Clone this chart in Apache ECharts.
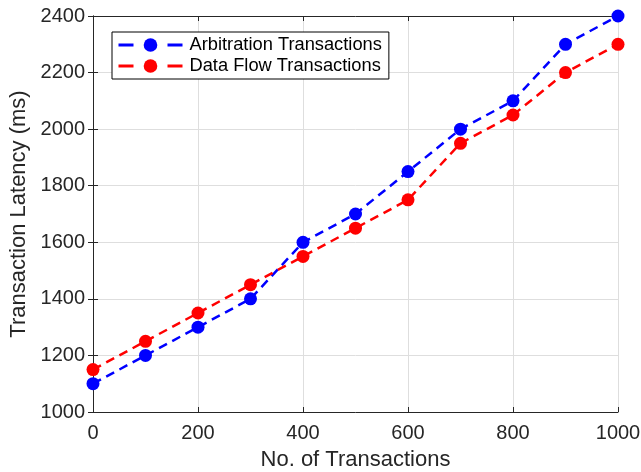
<!DOCTYPE html>
<html>
<head>
<meta charset="utf-8">
<title>Transaction Latency</title>
<script src="https://cdn.jsdelivr.net/npm/echarts@6/dist/echarts.min.js"></script>
</head>
<body style="margin:0">
<div id="main" style="width:641px;height:472px;"></div>
<script type="text/javascript">
var xValues = [0, 100, 200, 300, 400, 500, 600, 700, 800, 900, 1000];
var arbitration = [1100, 1200, 1300, 1400, 1600, 1700, 1850, 2000, 2100, 2300, 2400];
var dataFlow = [1150, 1250, 1350, 1450, 1550, 1650, 1750, 1950, 2050, 2200, 2300];

function pairs(ys) {
    return xValues.map(function (x, i) { return [x, ys[i]]; });
}

var txt = '#262626';
var font = 'Liberation Sans, Arial, sans-serif';
var plain = function (v) { return String(v); };

var myChart = echarts.init(document.getElementById('main'));
myChart.setOption({
    animation: false,
    backgroundColor: '#fff',
    grid: { left: 93, right: 23, top: 16, bottom: 60, outerBoundsMode: 'none', containLabel: false },
    legend: {
        orient: 'vertical',
        left: 112, top: 32,
        itemWidth: 64, itemHeight: 17, itemGap: 3,
        padding: [4, 7, 4, 5],
        borderColor: '#000', borderWidth: 1,
        backgroundColor: '#fff',
        lineStyle: { width: 3, type: [15, 34] },
        textStyle: { color: '#000', fontSize: 18.3, fontFamily: font, padding: [0, 0, 0, 2] },
        data: ['Arbitration Transactions', 'Data Flow Transactions']
    },
    xAxis: [{
        type: 'value', min: 0, max: 1000, interval: 200,
        name: 'No. of Transactions', nameLocation: 'middle', nameGap: 37,
        nameTextStyle: { color: txt, fontSize: 22, fontFamily: font },
        axisLine: { lineStyle: { color: txt, width: 1 } },
        axisTick: { inside: true, length: 5, lineStyle: { color: txt } },
        axisLabel: { color: txt, fontSize: 20, fontFamily: font, margin: 11, formatter: plain },
        splitLine: { show: true, lineStyle: { color: '#dedede' } }
    }, {
        type: 'value', min: 0, max: 1000, interval: 200, position: 'top',
        axisLine: { show: true, lineStyle: { color: txt } },
        axisTick: { inside: true, length: 5, lineStyle: { color: txt } },
        axisLabel: { show: false }, splitLine: { show: false }
    }],
    yAxis: [{
        type: 'value', min: 1000, max: 2400, interval: 200,
        name: 'Transaction Latency (ms)', nameLocation: 'middle', nameGap: 55,
        nameTextStyle: { color: txt, fontSize: 22, fontFamily: font },
        axisLine: { show: true, lineStyle: { color: txt, width: 1 } },
        axisTick: { show: true, inside: true, length: 5, lineStyle: { color: txt } },
        axisLabel: { color: txt, fontSize: 20, fontFamily: font, margin: 8, formatter: plain },
        splitLine: { show: true, lineStyle: { color: '#dedede' } }
    }, {
        type: 'value', min: 1000, max: 2400, interval: 200, position: 'right',
        axisLine: { show: true, lineStyle: { color: txt } },
        axisTick: { show: true, inside: true, length: 5, lineStyle: { color: txt } },
        axisLabel: { show: false }, splitLine: { show: false }
    }],
    series: [{
        name: 'Arbitration Transactions',
        type: 'line',
        data: pairs(arbitration),
        symbol: 'circle', symbolSize: 13,
        itemStyle: { color: '#0000ff' },
        lineStyle: { color: '#0000ff', width: 2.5, type: [9, 6] }
    }, {
        name: 'Data Flow Transactions',
        type: 'line',
        data: pairs(dataFlow),
        symbol: 'circle', symbolSize: 13,
        itemStyle: { color: '#ff0000' },
        lineStyle: { color: '#ff0000', width: 2.5, type: [9, 6] }
    }]
});
</script>
</body>
</html>
